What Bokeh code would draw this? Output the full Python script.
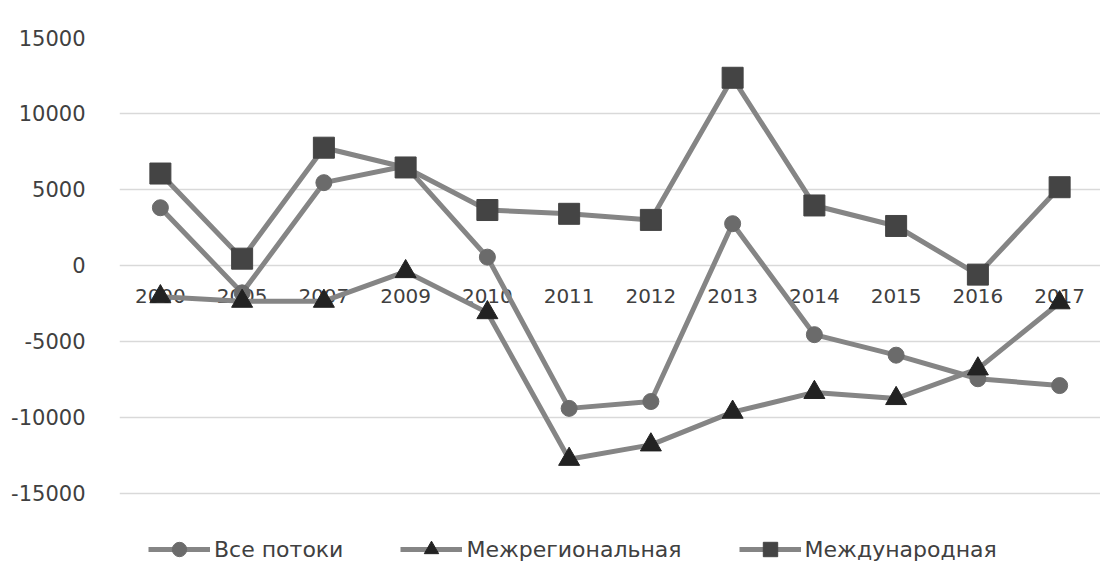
from bokeh.plotting import figure
from bokeh.models import Legend, LegendItem, FixedTicker, Range1d, FactorRange, LabelSet, ColumnDataSource
from bokeh.core.properties import value
from bokeh.embed import file_html
from bokeh.resources import INLINE

years = ["2000", "2005", "2007", "2009", "2010", "2011", "2012", "2013", "2014", "2015", "2016", "2017"]
vse_potoki = [3800, -1800, 5450, 6550, 550, -9400, -8950, 2750, -4550, -5900, -7450, -7900]
mezhregionalnaya = [-2050, -2350, -2350, -400, -3100, -12750, -11800, -9650, -8350, -8750, -6800, -2450]
mezhdunarodnaya = [6050, 450, 7750, 6450, 3650, 3400, 3000, 12350, 3950, 2600, -600, 5150]
y_ticks = [-15000, -10000, -5000, 0, 5000, 10000, 15000]
axis_crossing = [0] * len(years)

FONT = "DejaVu Sans"
LINE = "#858585"
TXT = "#404040"

p = figure(width=1100, height=561, x_range=FactorRange(*years), y_range=Range1d(-19474, 15000),
           output_backend="svg", toolbar_location=None,
           min_border_left=119, min_border_right=0, min_border_top=37, min_border_bottom=0)
p.outline_line_color = None
p.background_fill_color = "white"

p.xgrid.grid_line_color = None
p.ygrid.grid_line_color = "#d9d9d9"
p.ygrid.grid_line_width = 1.5
p.yaxis.ticker = FixedTicker(ticks=y_ticks)
p.yaxis.major_label_overrides = {t: str(t) for t in y_ticks}
p.yaxis.axis_line_color = None
p.yaxis.major_tick_line_color = None
p.yaxis.minor_tick_line_color = None
p.yaxis.major_label_text_font = FONT
p.yaxis.major_label_text_font_size = "21px"
p.yaxis.major_label_text_color = TXT
p.yaxis.major_label_standoff = 28
p.xaxis.visible = False

lbl_src = ColumnDataSource(data=dict(x=years, y=axis_crossing, t=years))
xlabels = LabelSet(x="x", y="y", text="t", source=lbl_src, y_offset=-31,
                   text_align="center", text_baseline="middle",
                   text_font=value(FONT), text_font_size=value("20px"), text_color=TXT, level="underlay")
p.add_layout(xlabels)

l1 = p.line(years, vse_potoki, line_color=LINE, line_width=5)
m1 = p.scatter(years, vse_potoki, marker="circle", size=16, fill_color="#6b6b6b", line_color="#6b6b6b")
l2 = p.line(years, mezhregionalnaya, line_color=LINE, line_width=5)
m2 = p.scatter(years, mezhregionalnaya, marker="triangle", size=21, fill_color="#222222", line_color="#222222")
l3 = p.line(years, mezhdunarodnaya, line_color=LINE, line_width=5)
m3 = p.scatter(years, mezhdunarodnaya, marker="square", size=21, fill_color="#444444", line_color="#444444")

legend = Legend(items=[
    LegendItem(label="Все потоки", renderers=[l1, m1]),
    LegendItem(label="Межрегиональная", renderers=[l2, m2]),
    LegendItem(label="Международная", renderers=[l3, m3]),
], orientation="horizontal", location=(29, -6))
legend.label_text_font = FONT
legend.label_text_font_size = "22px"
legend.label_text_color = TXT
legend.glyph_width = 62
legend.glyph_height = 36
legend.spacing = 57
legend.label_standoff = 4
legend.border_line_color = None
legend.background_fill_alpha = 0
legend.padding = 0
legend.margin = 0
p.add_layout(legend)

open("out.html", "w").write(file_html(p, INLINE))
